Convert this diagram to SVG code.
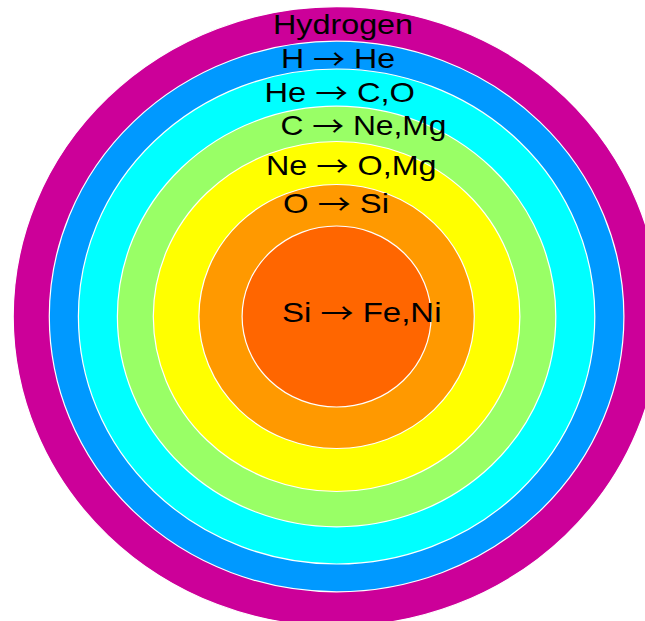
<svg xmlns="http://www.w3.org/2000/svg" width="645" height="621" viewBox="0 0 645 621">
  <style>
    .ring { stroke: #ffffff; stroke-width: 1.2; }
    .lbl { font-family: "Liberation Sans", Arial, Helvetica, sans-serif; font-size: 28px; fill: #000000; }
    .arr { font-family: "Noto Sans CJK JP", "DejaVu Sans", sans-serif; }
  </style>
  <rect x="0" y="0" width="645" height="621" fill="#ffffff"/>
  <g id="layer-hydrogen">
    <ellipse class="ring" cx="336.6" cy="316.5" rx="323.4" ry="309.8" fill="#CC0099" stroke="#e8d0e0"/>
  </g>
  <g id="layer-h-he">
    <ellipse class="ring" cx="336.6" cy="316.5" rx="287.3" ry="275.3" fill="#0099FF"/>
  </g>
  <g id="layer-he-co">
    <ellipse class="ring" cx="336.6" cy="316.5" rx="258.2" ry="247.5" fill="#00FFFF"/>
  </g>
  <g id="layer-c-nemg">
    <ellipse class="ring" cx="336.6" cy="316.5" rx="219.2" ry="210.3" fill="#99FF66"/>
  </g>
  <g id="layer-ne-omg">
    <ellipse class="ring" cx="336.6" cy="316.5" rx="183.3" ry="175" fill="#FFFF00"/>
  </g>
  <g id="layer-o-si">
    <ellipse class="ring" cx="336.6" cy="316.5" rx="137.7" ry="132" fill="#FF9900"/>
  </g>
  <g id="layer-si-feni">
    <ellipse class="ring" cx="336.6" cy="316.5" rx="94.5" ry="90.5" fill="#FF6600"/>
  </g>
  <g id="labels">
    <text class="lbl" x="273" y="34" textLength="140" lengthAdjust="spacingAndGlyphs">Hydrogen</text>
    <text class="lbl" x="281" y="68" textLength="114" lengthAdjust="spacingAndGlyphs">H <tspan class="arr" dy="2">→</tspan><tspan dy="-2"> He</tspan></text>
    <text class="lbl" x="264.5" y="101.7" textLength="150.5" lengthAdjust="spacingAndGlyphs">He <tspan class="arr" dy="2">→</tspan><tspan dy="-2"> C,O</tspan></text>
    <text class="lbl" x="280.5" y="134.7" textLength="166" lengthAdjust="spacingAndGlyphs">C <tspan class="arr" dy="2">→</tspan><tspan dy="-2"> Ne,Mg</tspan></text>
    <text class="lbl" x="266" y="174.7" textLength="170.5" lengthAdjust="spacingAndGlyphs">Ne <tspan class="arr" dy="2">→</tspan><tspan dy="-2"> O,Mg</tspan></text>
    <text class="lbl" x="283" y="213" textLength="106" lengthAdjust="spacingAndGlyphs">O <tspan class="arr" dy="2">→</tspan><tspan dy="-2"> Si</tspan></text>
    <text class="lbl" x="282" y="321.7" textLength="159.5" lengthAdjust="spacingAndGlyphs">Si <tspan class="arr" dy="2">→</tspan><tspan dy="-2"> Fe,Ni</tspan></text>
  </g>
</svg>
